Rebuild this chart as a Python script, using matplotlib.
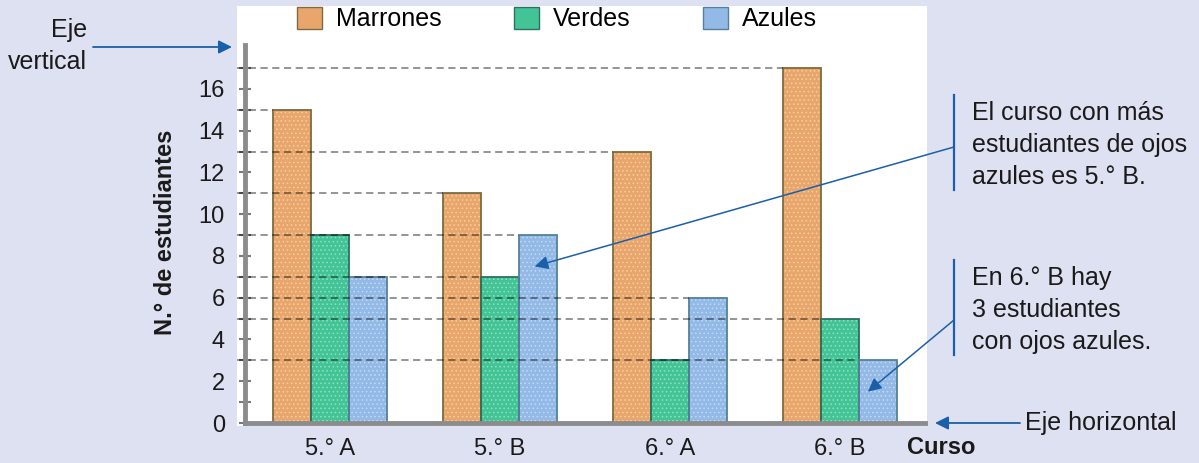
import numpy as np
import matplotlib
matplotlib.use('Agg')
from matplotlib import pyplot as plt
from matplotlib.patches import Patch, Rectangle
from matplotlib.lines import Line2D

# data
cursos = ['5.° A', '5.° B', '6.° A', '6.° B']
series = ['Marrones', 'Verdes', 'Azules']
marrones = [15, 11, 13, 17]
verdes = [9, 7, 3, 5]
azules = [7, 9, 6, 3]

ylabel = 'N.° de estudiantes'
xlabel = 'Curso'
nota_azul = 'El curso con más\nestudiantes de ojos\nazules es 5.° B.'
nota_6b = 'En 6.° B hay\n3 estudiantes\ncon ojos azules.'

# styles
fill = ['#e9a66c', '#43c497', '#93b9e6']
dots = ['#f6cf9f', '#8fe0c0', '#c4d9f3']
edges = ['#7d6b3f', '#2f6f62', '#54819a']
bg = '#dee1f2'
azul = '#1b5fab'
txt = '#1a1a1a'
fs = 17
fs_nota = 18

plt.rcParams['font.family'] = ['Liberation Sans', 'DejaVu Sans']
plt.rcParams['hatch.linewidth'] = 0.6

W, H = 1199, 463
def fx(x):
    return x / W
def fy(y):
    return 1 - y / H

fig = plt.figure(figsize=(W / 100, H / 100), dpi=100, facecolor=bg)
#white panel behind the chart
fig.add_artist(Rectangle((fx(237), fy(426)), fx(927) - fx(237), fy(6) - fy(426),
                         transform=fig.transFigure, facecolor='white', edgecolor='none', zorder=-5))

ax = fig.add_axes([fx(245), fy(423), fx(925) - fx(245), fy(45) - fy(423)])
ax.set_facecolor('none')

x = np.arange(len(cursos))
w = 0.224
valores = [marrones, verdes, azules]
for i, vals in enumerate(valores):
    pos = x + (i - 1) * w
    ax.bar(pos, vals, w, color=fill[i], hatch='....', edgecolor=dots[i], linewidth=0, zorder=2)
    ax.bar(pos, vals, w, fill=False, edgecolor=edges[i], linewidth=1.3, zorder=3)

# dashed guide lines from the axis to the rightmost bar with each value
tops = {}
for i, vals in enumerate(valores):
    for j, v in enumerate(vals):
        left = x[j] + (i - 1) * w - w / 2
        tops[v] = max(tops.get(v, -1), left)
for v, left in tops.items():
    ax.plot([-0.55, left], [v, v], color='k', alpha=0.45, lw=1.3,
            dashes=(4, 2.5), zorder=4, clip_on=False)

ax.set_xlim(-0.5, 3.5)
ax.set_ylim(0, 18.1)
ax.set_xticks(x)
ax.set_xticklabels(cursos, fontsize=fs, color=txt)
ax.tick_params(axis='x', length=0, pad=11)
ax.set_yticks(np.arange(0, 17, 2))
ax.set_yticks(np.arange(1, 18, 2), minor=True)
ax.tick_params(axis='y', which='both', direction='inout', length=9, width=1.5,
               color='#7a7a7a', labelsize=fs, labelcolor=txt, pad=10)
for s in ['top', 'right']:
    ax.spines[s].set_visible(False)
for s in ['left', 'bottom']:
    ax.spines[s].set_color('#8c8c8c')
    ax.spines[s].set_linewidth(3.5)
    ax.spines[s].set_zorder(5)

ax.set_ylabel(ylabel, fontsize=fs, fontweight='bold', color=txt, va='center')
ax.yaxis.set_label_coords((165 - 245) / 680, 0.505)
ax.text((907 - 245) / 680, (423 - 448) / 378, xlabel, transform=ax.transAxes,
        fontsize=fs, fontweight='bold', color=txt, ha='left', va='center')

handles = [Patch(facecolor=fill[i], edgecolor=edges[i], label=series[i]) for i in range(3)]
fig.legend(handles=handles, loc='center', bbox_to_anchor=(fx(557), fy(19)), ncol=3,
           frameon=False, fontsize=fs_nota, handlelength=1.0, handleheight=1.0,
           handletextpad=0.55, columnspacing=2.9, borderpad=0)

# arrows and notes
arrow = dict(arrowstyle='-|>', color=azul, lw=1.3, mutation_scale=20, shrinkA=0, shrinkB=0)
ax.annotate('', xy=(fx(232), fy(47)), xycoords='figure fraction',
            xytext=(fx(93), fy(47)), textcoords='figure fraction', arrowprops=arrow)
fig.text(fx(87), fy(46), 'Eje\nvertical', ha='right', va='center', fontsize=fs_nota,
         color=txt, linespacing=1.45)
ax.annotate('', xy=(fx(935), fy(423)), xycoords='figure fraction',
            xytext=(fx(1020), fy(423)), textcoords='figure fraction', arrowprops=arrow)
fig.text(fx(1025), fy(423), 'Eje horizontal', ha='left', va='center', fontsize=fs_nota, color=txt)

ax.annotate('', xy=(x[1] + w - 0.02, 7.5), xycoords='data',
            xytext=(fx(954), fy(147)), textcoords='figure fraction',
            arrowprops=dict(arrow, lw=1.1), annotation_clip=False)
ax.annotate('', xy=(x[3] + w - 0.06, 1.5), xycoords='data',
            xytext=(fx(954), fy(320)), textcoords='figure fraction',
            arrowprops=dict(arrow, lw=1.1), annotation_clip=False)
for y0, y1, yc, nota in [(95, 190, 145, nota_azul), (260, 355, 310, nota_6b)]:
    fig.add_artist(Line2D([fx(954), fx(954)], [fy(y0), fy(y1)], transform=fig.transFigure,
                          color=azul, lw=1.6))
    fig.text(fx(972), fy(yc), nota, ha='left', va='center', fontsize=fs_nota,
             color=txt, linespacing=1.4)

fig.savefig('out.png', dpi=100, facecolor=bg)
